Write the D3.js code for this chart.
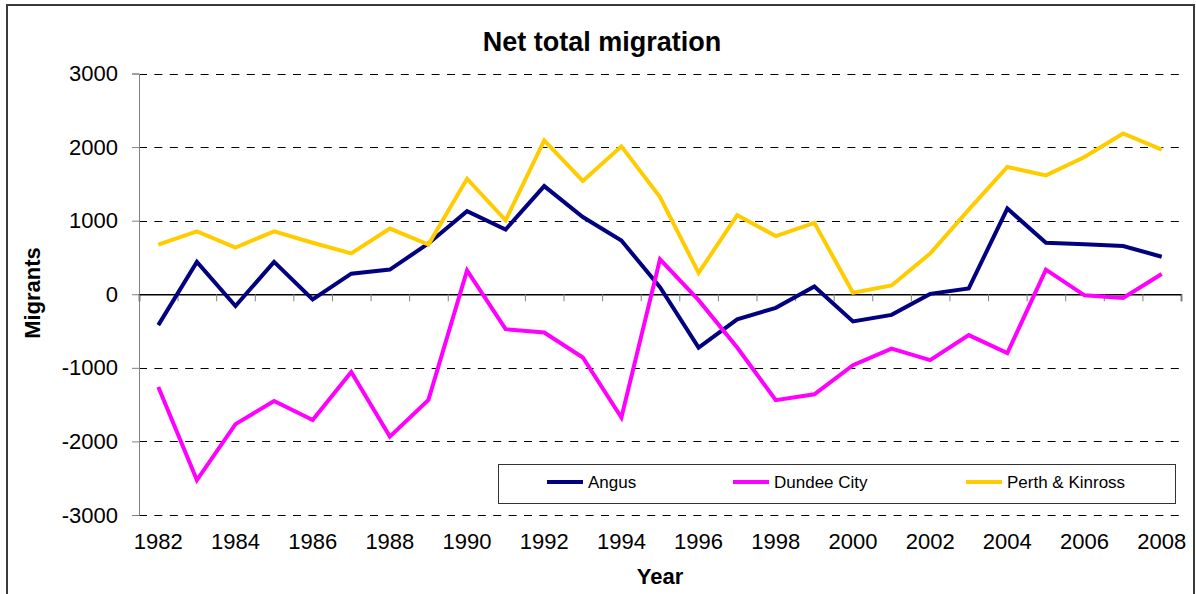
<!DOCTYPE html>
<html lang="en">
<head>
    <meta charset="UTF-8">
    <title>Net total migration</title>
    <script src="https://d3js.org/d3.v7.min.js"></script>
    <style>
        body { margin: 0; background: #fff; }
        svg text { font-family: "Liberation Sans", Arial, sans-serif; fill: #000; }
        .grid line { stroke: #000; stroke-width: 1; stroke-dasharray: 8, 7.4; }
        .series { fill: none; stroke-width: 4; stroke-linejoin: miter; }
    </style>
</head>
<body>
    <svg id="chart" width="1196" height="594"></svg>

    <script>
        // data
        const years = d3.range(1982, 2009);
        const angus = [-420, 440, -160, 440, -70, 280, 335, 690, 1130, 880, 1470, 1050, 730, 95,
            -725, -340, -185, 105, -370, -280, 5, 80, 1165, 700, 678, 655, 510];
        const dundee = [-1260, -2525, -1765, -1450, -1710, -1055, -1935, -1435, 325, -475, -520, -860, -1675, 475,
            -80, -725, -1440, -1360, -965, -740, -895, -555, -800, 335, -15, -50, 275];
        const perth = [675, 855, 635, 855, 700, 555, 893, 675, 1570, 1005, 2090, 1540, 2010, 1320,
            290, 1075, 790, 970, 20, 120, 553, 1150, 1730, 1615, 1865, 2185, 1965];
        const seriesNames = ["Angus", "Dundee City", "Perth & Kinross"];
        const seriesColors = ["#000080", "#FF00FF", "#FFCC00"];
        const yTicks = [-3000, -2000, -1000, 0, 1000, 2000, 3000];

        const svg = d3.select("#chart");
        const plotLeft = 139, plotRight = 1181, plotTop = 73.5, plotBottom = 515;

        const x = d3.scaleBand().domain(years).range([plotLeft, plotRight]);
        const xIdx = d3.scaleLinear().domain([0, years.length]).range([plotLeft, plotRight]);
        const y = d3.scaleLinear().domain([-3000, 3000]).range([plotBottom, plotTop]);

        // outer frame
        svg.append("rect")
            .attr("x", 7).attr("y", 5)
            .attr("width", 1187).attr("height", 600)
            .attr("fill", "#fff")
            .attr("stroke", "#3a3a3a")
            .attr("stroke-width", 2);

        // title
        svg.append("text")
            .attr("x", 602).attr("y", 51)
            .attr("text-anchor", "middle")
            .attr("font-size", 27).attr("font-weight", "bold")
            .text("Net total migration");

        // dashed gridlines
        svg.append("g").attr("class", "grid")
            .selectAll("line")
            .data(yTicks.filter(d => d !== 0))
            .enter().append("line")
            .attr("x1", plotLeft).attr("x2", plotRight)
            .attr("y1", d => Math.round(y(d)) + 0.5)
            .attr("y2", d => Math.round(y(d)) + 0.5);

        // y axis
        const yAxis = svg.append("g")
            .attr("transform", `translate(${plotLeft},0)`)
            .call(d3.axisLeft(y).tickValues(yTicks).tickSize(7).tickPadding(14)
                .tickFormat(d => String(d)));
        yAxis.select(".domain").attr("stroke", "#808080");
        yAxis.selectAll(".tick line").attr("stroke", "#808080");
        yAxis.selectAll("text").attr("font-size", 22).attr("font-family", "Liberation Sans, Arial, sans-serif");

        // category axis crossing at zero
        const zAxis = svg.append("g")
            .attr("transform", `translate(0,${y(0)})`)
            .call(d3.axisBottom(xIdx).tickValues(d3.range(0, years.length + 1)).tickSize(7).tickFormat(""));
        zAxis.select(".domain").attr("stroke", "#000").attr("stroke-width", 1.5);
        zAxis.selectAll(".tick line").attr("stroke", "#808080");

        // year labels at the bottom
        const xAxis = svg.append("g")
            .attr("transform", `translate(0,${plotBottom})`)
            .call(d3.axisBottom(x).tickSize(0).tickPadding(18)
                .tickFormat(d => (d - 1982) % 2 === 0 ? d : ""));
        xAxis.select(".domain").remove();
        xAxis.selectAll("text").attr("font-size", 22).attr("font-family", "Liberation Sans, Arial, sans-serif");

        // axis titles
        svg.append("text")
            .attr("x", 660).attr("y", 584)
            .attr("text-anchor", "middle")
            .attr("font-size", 22).attr("font-weight", "bold")
            .text("Year");
        svg.append("text")
            .attr("transform", "translate(40,293) rotate(-90)")
            .attr("text-anchor", "middle")
            .attr("font-size", 22).attr("font-weight", "bold")
            .text("Migrants");

        // series lines
        const line = d3.line()
            .x((d, i) => x(years[i]) + x.bandwidth() / 2)
            .y(d => y(d));
        [angus, dundee, perth].forEach((vals, k) => {
            svg.append("path")
                .datum(vals)
                .attr("class", "series")
                .attr("stroke", seriesColors[k])
                .attr("d", line);
        });

        // legend
        const legend = svg.append("g");
        legend.append("rect")
            .attr("x", 498.5).attr("y", 464.5)
            .attr("width", 677).attr("height", 39)
            .attr("fill", "#fff").attr("stroke", "#333").attr("stroke-width", 1);
        const legendX = [547, 733, 966];
        seriesNames.forEach((name, k) => {
            legend.append("line")
                .attr("x1", legendX[k]).attr("x2", legendX[k] + 36)
                .attr("y1", 482).attr("y2", 482)
                .attr("stroke", seriesColors[k]).attr("stroke-width", 4);
            legend.append("text")
                .attr("x", legendX[k] + 41).attr("y", 488)
                .attr("font-size", 17)
                .text(name);
        });
    </script>
</body>
</html>
